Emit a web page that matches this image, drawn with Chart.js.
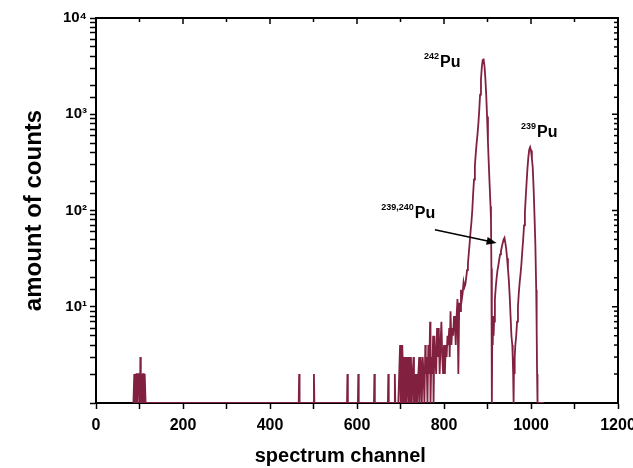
<!DOCTYPE html>
<html>
<head>
<meta charset="utf-8">
<script src="https://cdn.jsdelivr.net/npm/chart.js@4.4.1/dist/chart.umd.min.js"></script>
<style>
  html, body { margin: 0; padding: 0; background: #fff; }
  #wrap { width: 633px; height: 468px; }
</style>
</head>
<body>
<div id="wrap"><canvas id="specChart" width="633" height="468"></canvas></div>
<script>
  // spectrum channel -> counts
  const channels = [
    86, 88, 89, 90, 92, 93, 95, 96, 98, 100, 101, 102, 103, 105, 107, 108, 110, 111, 112, 114,
    466, 467, 468, 500, 501, 502, 577, 578, 579, 602, 603, 604, 639, 640, 641, 671, 672, 673, 686, 687, 688,
    695, 697, 699, 700, 701, 703, 704, 706, 707, 709, 711, 712, 714, 716, 717, 719, 721, 722, 724, 726,
    728, 730, 731, 733, 735, 737, 739, 741, 743, 744, 746, 748, 749, 751, 753, 755, 757, 758, 760, 762,
    764, 766, 768, 769, 771, 773, 775, 776, 778, 780, 782, 784, 786, 788, 790, 792, 794, 796, 798, 800,
    802, 804, 806, 808, 810, 812, 813, 815, 817, 819, 821, 823, 825, 827, 829, 831, 833, 835, 837, 839,
    841, 843, 845, 847, 849, 851, 853, 855, 857, 859, 861, 863, 865, 867, 869, 871, 873, 875, 877, 879,
    881, 883, 885, 887, 889, 891, 893, 895, 897, 899, 901, 903, 905, 907, 908, 909, 910, 911, 912, 913,
    914, 915, 917, 919, 921, 923, 925, 927, 929, 931, 933, 935, 937, 939, 941, 943, 945, 947, 949, 951,
    953, 955, 957, 958, 959, 960, 961, 962, 963, 964, 966, 968, 970, 972, 974, 976, 978, 980, 982, 984,
    986, 988, 990, 992, 994, 996, 998, 1000, 1002, 1004, 1006, 1008, 1010, 1012, 1013, 1014, 1015, 1030
  ];
  const counts = [
    0, 2, 1, 2, 1, 2, 2, 1, 2, 2, 1, 3, 1, 2, 1, 2, 2, 1, 2, 0,
    0, 2, 0, 0, 2, 0, 0, 2, 0, 0, 2, 0, 0, 2, 0, 0, 2, 0, 0, 2, 0,
    0, 2, 4, 1, 3, 0, 4, 2, 0, 3, 1, 3, 0, 3, 2, 0, 3, 1, 3, 0,
    2, 3, 0, 2, 1, 2, 0, 2, 3, 1, 3, 2, 0, 3, 2, 1, 4, 2, 3, 0,
    4, 2, 7, 1, 3, 2, 5, 1, 5, 3, 2, 6, 3, 6, 2, 4, 7, 3, 2, 4,
    2, 4, 3, 5, 4, 6, 3, 9, 4, 6, 5, 8, 7, 4, 8, 12, 2, 11, 9, 15,
    12, 14, 18, 16, 17, 20, 24, 28, 36, 46, 60, 75, 100, 150, 210, 290, 390, 500, 620, 800,
    1100, 1600, 2300, 3100, 3650, 3700, 3200, 2400, 1600, 950, 520, 300, 180, 110, 80, 25, 0, 6, 4, 8,
    5, 7, 12, 16, 20, 24, 27, 31, 35, 38, 42, 46, 50, 52, 46, 40, 32, 25, 19, 13,
    8, 5, 4, 3, 2, 0, 3, 2, 3, 4, 5, 7, 10, 14, 18, 22, 28, 38, 50, 70,
    95, 140, 200, 280, 360, 430, 455, 420, 350, 280, 170, 90, 45, 15, 6, 2, 0, 0
  ];
  const xTickLabels = [0, 200, 400, 600, 800, 1000, 1200];
  const yTickLabels = [10, 100, 1000, 10000];

  // peak labels: [channel, counts, mass number]
  const peakLabels = [
    [791, 3090, "242"],
    [1014, 575, "239"],
    [733, 83, "239,240"]
  ];
  const arrowFrom = [779, 63];
  const arrowTo = [921, 46];

  const supDigits = { "0": "⁰", "1": "¹", "2": "²", "3": "³", "4": "⁴" };
  const lineColor = "#82203f";
  const yMin = 1;

  const framePlugin = {
    id: "frame",
    afterDraw(chart) {
      const ctx = chart.ctx;
      const a = chart.chartArea;
      const xs = chart.scales.x, ys = chart.scales.y;
      ctx.save();
      ctx.strokeStyle = "#000";
      ctx.lineWidth = 2;
      ctx.beginPath();
      ctx.moveTo(a.left, a.top);
      ctx.lineTo(a.right, a.top);
      ctx.lineTo(a.right, a.bottom);
      ctx.stroke();
      ctx.lineWidth = 1.5;
      xs.ticks.forEach((t) => {
        const px = xs.getPixelForValue(t.value);
        ctx.beginPath();
        ctx.moveTo(px, a.top);
        ctx.lineTo(px, a.top + (t.value % 200 === 0 ? 6 : 4));
        ctx.stroke();
      });
      ys.ticks.forEach((t) => {
        const py = ys.getPixelForValue(t.value);
        const major = yTickLabels.includes(t.value);
        ctx.beginPath();
        ctx.moveTo(a.right, py);
        ctx.lineTo(a.right - (major ? 6 : 4), py);
        ctx.stroke();
      });

      // annotations
      ctx.fillStyle = "#000";
      ctx.textBaseline = "alphabetic";
      peakLabels.forEach(([ch, v, mass]) => {
        const px = xs.getPixelForValue(ch);
        const py = ys.getPixelForValue(v);
        ctx.font = "bold 16px 'Liberation Sans', Arial, sans-serif";
        ctx.textAlign = "left";
        ctx.fillText("Pu", px, py);
        ctx.font = "bold 9px 'Liberation Sans', Arial, sans-serif";
        ctx.textAlign = "right";
        ctx.fillText(mass, px - 1, py - 8);
      });

      const x1 = xs.getPixelForValue(arrowFrom[0]), y1 = ys.getPixelForValue(arrowFrom[1]);
      const x2 = xs.getPixelForValue(arrowTo[0]), y2 = ys.getPixelForValue(arrowTo[1]);
      const ang = Math.atan2(y2 - y1, x2 - x1);
      ctx.strokeStyle = "#000";
      ctx.lineWidth = 1.5;
      ctx.beginPath();
      ctx.moveTo(x1, y1);
      ctx.lineTo(x2 - 8 * Math.cos(ang), y2 - 8 * Math.sin(ang));
      ctx.stroke();
      ctx.beginPath();
      ctx.moveTo(x2, y2);
      ctx.lineTo(x2 - 10 * Math.cos(ang) + 4 * Math.sin(ang), y2 - 10 * Math.sin(ang) - 4 * Math.cos(ang));
      ctx.lineTo(x2 - 10 * Math.cos(ang) - 4 * Math.sin(ang), y2 - 10 * Math.sin(ang) + 4 * Math.cos(ang));
      ctx.closePath();
      ctx.fill();
      ctx.restore();
    }
  };

  const ctx = document.getElementById("specChart").getContext("2d");
  new Chart(ctx, {
    type: "line",
    data: {
      datasets: [
        {
          label: "counts",
          // empty channels sit on the bottom of the log axis
          data: channels.map((c, i) => ({ x: c, y: Math.max(counts[i], yMin) })),
          borderColor: lineColor,
          borderWidth: 1.8,
          pointRadius: 0,
          tension: 0,
          fill: false
        }
      ]
    },
    options: {
      responsive: false,
      animation: false,
      layout: { padding: { top: 18, right: 15, left: 0, bottom: 0 } },
      plugins: { legend: { display: false }, tooltip: { enabled: false } },
      scales: {
        x: {
          type: "linear",
          min: 0,
          max: 1200,
          afterFit(scale) {
            scale.height = 65;
            scale.paddingLeft = 0;
            scale.paddingRight = 0;
          },
          border: { display: true, color: "#000", width: 2 },
          grid: { drawOnChartArea: false, drawTicks: true, tickLength: 6, color: "#000", tickWidth: 1.5 },
          ticks: {
            stepSize: 100,
            autoSkip: false,
            maxRotation: 0,
            padding: 7,
            color: "#000",
            font: { family: "'Liberation Sans', Arial, sans-serif", size: 16, weight: "bold" },
            callback: (v) => (xTickLabels.includes(v) ? String(v) : "")
          },
          title: {
            display: true,
            text: "spectrum channel      ",
            color: "#000",
            font: { family: "'Liberation Sans', Arial, sans-serif", size: 20, weight: "bold" },
            padding: { top: 0, bottom: 0 }
          }
        },
        y: {
          type: "logarithmic",
          min: yMin,
          max: 10000,
          afterFit(scale) { scale.width = 96; },
          border: { display: true, color: "#000", width: 2 },
          grid: { drawOnChartArea: false, drawTicks: true, tickLength: 6, color: "#000", tickWidth: 1.5 },
          ticks: {
            autoSkip: false,
            padding: 3,
            color: "#000",
            font: { family: "'Liberation Sans', Arial, sans-serif", size: 15, weight: "bold" },
            callback: (v) => {
              if (!yTickLabels.includes(v)) return "";
              const e = String(Math.round(Math.log10(v)));
              return "10" + e.split("").map((d) => supDigits[d]).join("");
            }
          },
          title: {
            display: true,
            text: "amount of counts",
            color: "#000",
            font: { family: "'Liberation Sans', Arial, sans-serif", size: 24, weight: "bold" },
            padding: { top: 20, bottom: 0 }
          }
        }
      }
    },
    plugins: [framePlugin]
  });
</script>
</body>
</html>
